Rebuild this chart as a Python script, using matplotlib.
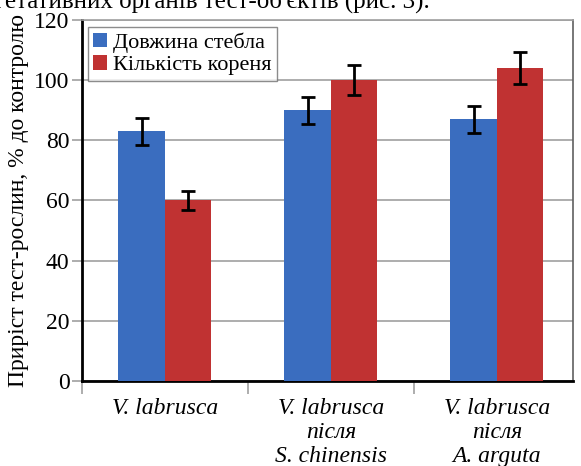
import matplotlib.pyplot as plt
from matplotlib import font_manager
import numpy as np

serif = font_manager.findfont(font_manager.FontProperties(family="Liberation Serif"))
serif_it = font_manager.findfont(font_manager.FontProperties(family="Liberation Serif", style="italic"))

groups = ["V. labrusca", "V. labrusca\nпісля\nS. chinensis", "V. labrusca\nпісля\nA. arguta"]
stem_length = [83, 90, 87]
stem_err = [4.5, 4.5, 4.5]
root_count = [60, 100, 104]
root_err = [3.3, 5.0, 5.3]
series_names = ["Довжина стебла", "Кількість кореня"]

fig = plt.figure(figsize=(5.81, 4.66), dpi=100)
ax = fig.add_axes([0.1411, 0.1824, 0.845, 0.7747])

x = np.arange(len(groups))
w = 0.28
err_kw = dict(ecolor="black", elinewidth=2, capsize=5, capthick=2)
ax.bar(x - w / 2, stem_length, w, yerr=stem_err, color="#3a6dbf",
       label=series_names[0], error_kw=err_kw, zorder=3)
ax.bar(x + w / 2, root_count, w, yerr=root_err, color="#c03232",
       label=series_names[1], error_kw=err_kw, zorder=3)

ax.set_ylim(0, 120)
ax.set_xlim(-0.5, 2.458)
ax.set_yticks(range(0, 121, 20))
ax.set_yticklabels([str(v) for v in range(0, 121, 20)],
                   fontproperties=font_manager.FontProperties(fname=serif, size=17))
ax.yaxis.grid(True, color="#a0a0a0", linewidth=1.2, zorder=0)
ax.tick_params(axis="y", color="#a0a0a0", length=7, width=1.2, pad=2)

ax.set_xticks(x)
ax.set_xticklabels(groups, fontproperties=font_manager.FontProperties(fname=serif_it, size=17),
                   linespacing=1.2)
ax.tick_params(axis="x", which="major", length=0, pad=12)
ax.set_xticks([-0.5, 0.5, 1.5], minor=True)
ax.tick_params(axis="x", which="minor", length=9, color="#a0a0a0", width=1.2)

for s in ["left", "bottom"]:
    ax.spines[s].set_linewidth(2)
    ax.spines[s].set_color("black")
ax.spines["top"].set_linewidth(1.2)
ax.spines["top"].set_color("#a0a0a0")
ax.spines["right"].set_linewidth(1.2)
ax.spines["right"].set_color("#606060")

ax.set_ylabel("Приріст тест-рослин, % до контролю",
              fontproperties=font_manager.FontProperties(fname=serif, size=17), labelpad=4)

leg = ax.legend(loc="upper left", bbox_to_anchor=(0.012, 0.98),
                prop=font_manager.FontProperties(fname=serif, size=16),
                frameon=True, fancybox=False, edgecolor="#707070",
                handlelength=0.6, handleheight=0.6, handletextpad=0.3,
                borderpad=0.25, labelspacing=0.1, borderaxespad=0)
leg.get_frame().set_linewidth(1.0)

# body text line running above the figure, only its lower part shows
fig.text(0.74, 1 - 8 / 466, "ростку вегетативних органів тест-об'єктів (рис. 3).",
         fontproperties=font_manager.FontProperties(fname=serif, size=18),
         ha="right", va="baseline")

fig.savefig("out.png", dpi=100)
